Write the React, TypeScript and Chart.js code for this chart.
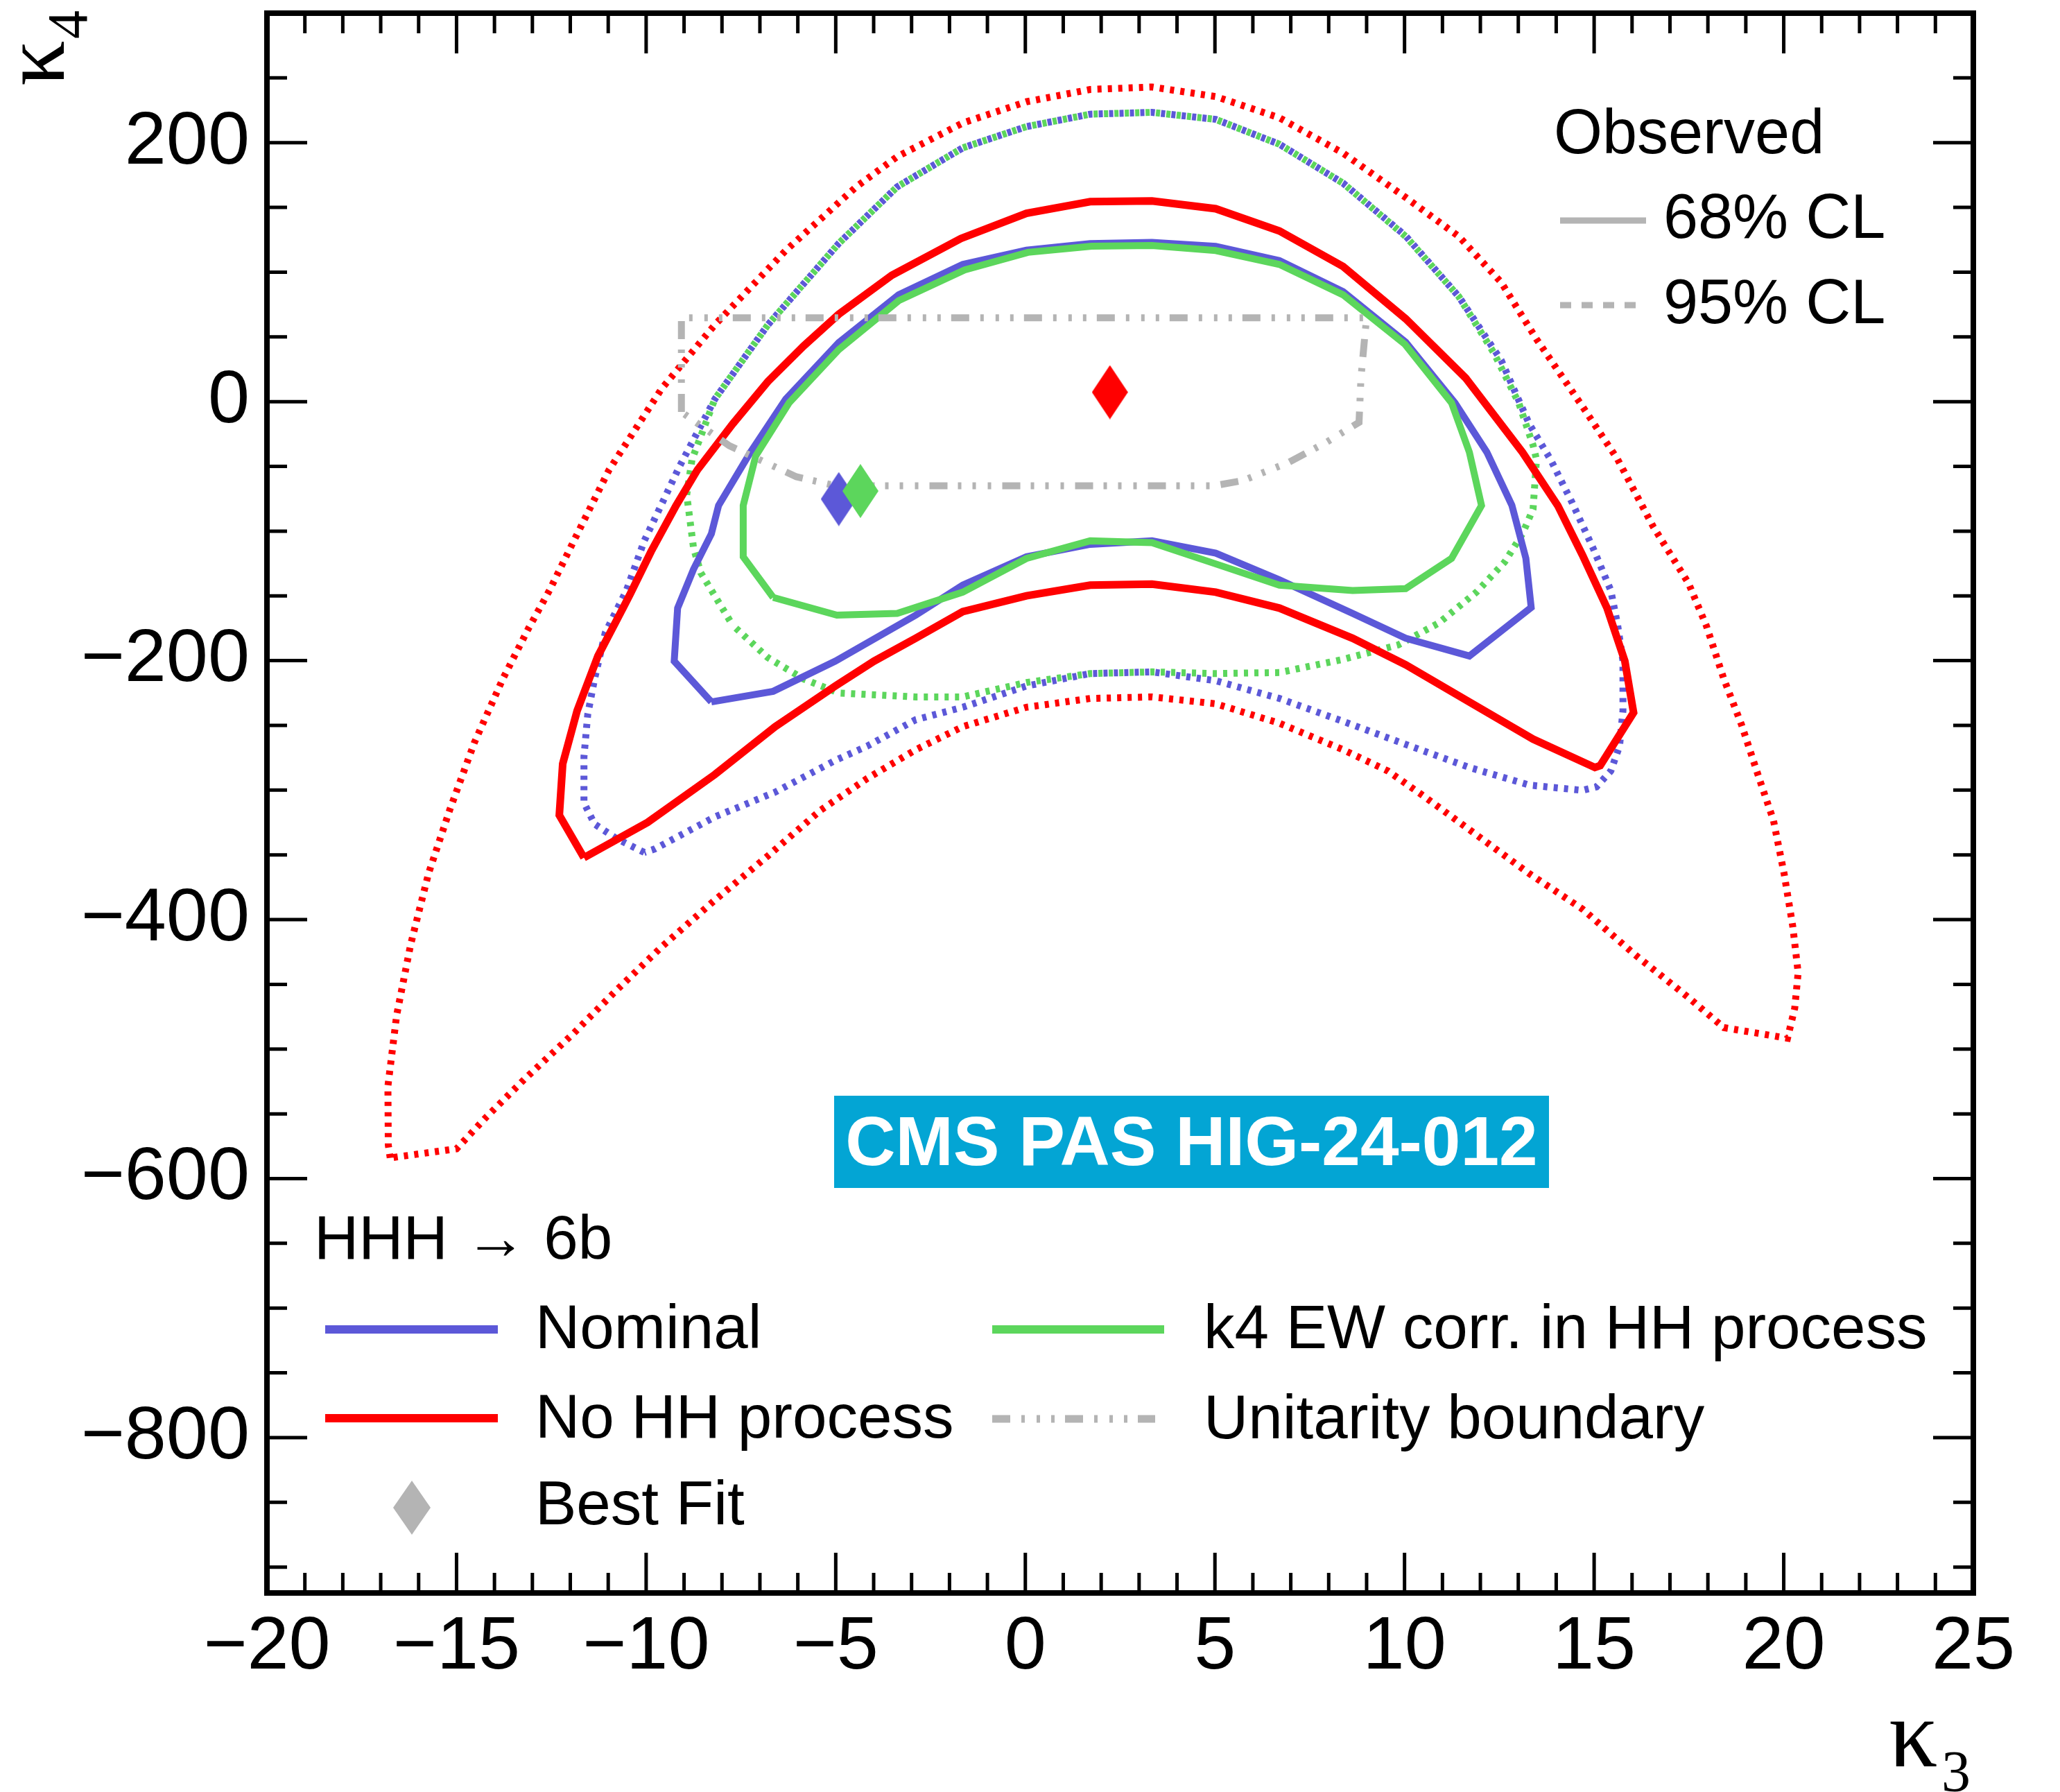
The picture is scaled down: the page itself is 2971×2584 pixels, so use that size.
import React, { useEffect, useRef } from 'react';
import { Chart, registerables } from 'chart.js';

Chart.register(...registerables);

// ---------- axis ticks ----------
const X_TICKS = [-20, -15, -10, -5, 0, 5, 10, 15, 20, 25];
const Y_TICKS = [-800, -600, -400, -200, 0, 200];
const X_RANGE = [-20, 25];
const Y_RANGE = [-920, 300];

// ---------- contours (kappa3, kappa4) ----------
const NOMINAL_68 = [
  [-8.28, -231.9], [-9.26, -200.4], [-9.17, -159.4], [-8.75, -129.4], [-8.28, -102], [-8.09, -80.2],
  [-7.25, -39.1], [-6.32, 1.9], [-4.92, 45.6], [-3.34, 82.5], [-1.65, 106], [0.03, 117], [1.71, 122],
  [3.34, 123], [5.02, 120], [6.7, 109], [8.38, 85], [10.03, 46], [11.33, -1], [12.17, -39], [12.83, -80],
  [13.2, -121], [13.34, -159], [11.71, -196.4], [10.03, -182.7], [8.63, -163.5], [6.7, -137.6],
  [5.02, -117], [3.34, -107.5], [1.71, -110.2], [0.03, -119.8], [-1.65, -141.7], [-2.89, -164.9],
  [-5.01, -200.4], [-6.65, -223.7],
];
const NOMINAL_95 = [
  [-10.05, -348.1], [-10.8, -337.1], [-11.36, -326.2], [-11.64, -309.8], [-11.64, -274.3], [-11.54, -241.5],
  [-11.36, -214.1], [-11.08, -178.6], [-10.52, -145.8], [-10.05, -107.5], [-9.12, -50], [-8.19, 1.9],
  [-6.79, 59.3], [-4.92, 122.2], [-3.38, 165.9], [-1.65, 196], [0.03, 212.4], [1.71, 222], [3.34, 223.4],
  [5.02, 218], [6.7, 198.8], [8.38, 168.7], [10.03, 128], [11.43, 81.2], [12.55, 31.9], [13.29, -17.3],
  [13.85, -44.6], [14.41, -77.4], [14.97, -113], [15.44, -145.8], [15.62, -172.6], [15.76, -200.4],
  [15.76, -238.7], [15.67, -266], [15.44, -285.2], [15.06, -297.5], [14.69, -300.2], [13.29, -296.1],
  [11.71, -282.5], [10.03, -264.7], [8.38, -246.9], [6.7, -229.2], [5.02, -215.5], [3.34, -208.7],
  [1.71, -210], [0.03, -219.6], [-1.65, -236], [-2.89, -245.6], [-4.17, -266], [-5.01, -277],
  [-6.6, -301.6], [-8.19, -320.7], [-9.77, -345.4],
];
const K4EW_68 = [
  [-6.65, -151.2], [-7.44, -119.8], [-7.44, -80.2], [-7.11, -41.9], [-6.23, -0.9], [-4.92, 40.2],
  [-3.34, 78], [-1.6, 101.7], [0.07, 115.3], [1.75, 120.1], [3.34, 120.6], [5.02, 116.7], [6.7, 106],
  [8.38, 82.5], [10.01, 44.3], [11.24, -0.9], [11.71, -39.1], [12.03, -80.2], [11.24, -121.1],
  [10.03, -144.4], [8.63, -145.8], [6.7, -141.7], [5.02, -125.3], [3.34, -108.9], [1.71, -107.5],
  [0.03, -121.1], [-1.65, -147.1], [-3.38, -163.5], [-4.97, -164.9],
];
const K4EW_95 = [
  [-7.72, -172.6], [-8.56, -132.1], [-8.75, -113], [-8.93, -71.9], [-8.79, -44.6], [-8.19, 1.9],
  [-6.79, 59.3], [-4.92, 122.2], [-3.38, 165.9], [-1.65, 196], [0.03, 212.4], [1.71, 222], [3.34, 223.4],
  [5.02, 218], [6.7, 198.8], [8.38, 168.7], [10.03, 127.6], [11.43, 81.2], [12.36, 37.4], [13.01, -0.9],
  [13.39, -33.7], [13.48, -44.6], [13.39, -82.9], [13.11, -102], [12.64, -123.9], [11.9, -147],
  [10.9, -171], [9.84, -187.8], [8.38, -199], [6.7, -209.2], [5.02, -210], [3.34, -208.7], [1.71, -210],
  [0.03, -216.9], [-1.65, -228], [-2.89, -228], [-4.92, -225], [-5.85, -214.1], [-6.79, -197.7],
];
const NOHH_68 = [
  [-11.64, -352.2], [-12.29, -319.4], [-12.2, -279.7], [-11.82, -238.7], [-11.27, -196.4], [-10.61, -159.4],
  [-10.42, -148.5], [-9.87, -115.7], [-9.21, -80.2], [-8.65, -52.8], [-7.72, -17.3], [-6.79, 15.5],
  [-5.85, 42.9], [-4.92, 67.5], [-3.52, 97.6], [-1.7, 126], [0.03, 145.4], [1.71, 154.4], [3.34, 155],
  [5.02, 149], [6.7, 131.8], [8.38, 104.4], [10.03, 64], [11.61, 18.3], [13.11, -39.1], [14.04, -80.2],
  [14.69, -118.4], [15.34, -159.4], [15.81, -200.4], [16.04, -240.1], [15.16, -281.1], [15.02, -282.5],
  [13.39, -260.6], [11.71, -231.9], [10.03, -203.2], [8.63, -182.7], [6.7, -159.4], [5.02, -147.1],
  [3.34, -140.9], [1.71, -141.7], [0.03, -149.9], [-1.65, -162.2], [-2.89, -182.7], [-3.99, -200.4],
  [-5.01, -219.6], [-6.6, -251], [-8.19, -288], [-9.96, -324.9],
];
const NOHH_95 = [
  [-16.75, -584], [-16.8, -574], [-16.81, -528.6], [-16.58, -473.9], [-16.21, -419.2], [-15.74, -364.5],
  [-15.18, -315.3], [-14.53, -263.3], [-13.78, -214.1], [-13.1, -175], [-12.55, -145.8], [-12.0, -113],
  [-10.98, -52.8], [-9.59, 10.1], [-8.19, 59.3], [-6.32, 116.7], [-4.46, 165.9], [-3.38, 189.2],
  [-1.65, 215.2], [0.03, 231.6], [1.71, 241.1], [3.34, 243], [5.02, 235.6], [6.7, 219.2], [8.38, 191.9],
  [10.03, 157.7], [11.43, 127.6], [12.55, 92.1], [13.48, 48.3], [14.69, -3.6], [15.62, -44.6],
  [16.56, -96.6], [17.49, -140.3], [17.96, -173.1], [18.42, -214.1], [18.89, -249.7], [19.35, -290.7],
  [19.73, -323.5], [20.01, -364.5], [20.24, -405.5], [20.38, -441], [20.29, -468.4], [20.1, -491.6],
  [18.42, -483.4], [17.49, -460.2], [16.09, -427.4], [14.69, -391.8], [13.29, -364.5], [11.89, -334.4],
  [10.49, -304.3], [9.56, -285.2], [8.38, -268.8], [6.7, -248.3], [5.02, -233.3], [3.34, -228],
  [1.71, -229.2], [0.03, -236], [-1.65, -251], [-2.89, -268.8], [-4.17, -291], [-5.39, -315.3],
  [-6.79, -350.8], [-8.19, -385], [-9.59, -421], [-10.8, -455], [-11.92, -488], [-13.2, -523],
  [-14.2, -552], [-15.0, -577],
];
const UNITARITY = [
  [-9.07, -8], [-9.07, 64.8], [9.0, 64.8], [8.95, 50], [8.85, 18], [8.8, -16], [7.96, -31], [6.94, -47],
  [5.73, -61], [4.97, -65], [-4.99, -65], [-6.04, -58], [-7.81, -34], [-9.07, -8],
];
const BF_NOMINAL = [-4.92, -75.2];
const BF_K4EW = [-4.35, -69];
const BF_NOHH = [2.23, 7.3];

// ---------- colours ----------
const BLUE = '#5c58d8';
const RED = '#ff0000';
const GREEN = '#5cd65c';
const GRAY = '#b4b4b4';
const CMS_BLUE = '#03a5d4';

const SANS = "'Liberation Sans', Arial, Helvetica, sans-serif";
const SERIF = "'Liberation Serif', 'Times New Roman', serif";

const fmt = (v: number) => (v < 0 ? '\u2212' + Math.abs(v) : String(v));
const toXY = (pts: number[][], close = true) => {
  const d = pts.map(([x, y]) => ({ x, y }));
  if (close && pts.length) d.push({ x: pts[0][0], y: pts[0][1] });
  return d;
};

function diamond(color: string, w: number, h: number) {
  const c = document.createElement('canvas');
  c.width = w;
  c.height = h;
  const g = c.getContext('2d')!;
  g.fillStyle = color;
  g.beginPath();
  g.moveTo(w / 2, 0);
  g.lineTo(w, h / 2);
  g.lineTo(w / 2, h);
  g.lineTo(0, h / 2);
  g.closePath();
  g.fill();
  return c;
}

const DOT = [6, 9];
const UNIT_DASH = [26, 16, 5, 17, 5, 16, 5, 15];

const decorPlugin = {
  id: 'decor',
  afterDraw(chart: any) {
    const { ctx, chartArea: a, scales } = chart;
    const xs = scales.x;
    const ys = scales.y;
    ctx.save();
    // ticks
    ctx.strokeStyle = '#000';
    ctx.lineWidth = 5;
    ctx.lineCap = 'butt';
    ctx.beginPath();
    for (let v = Math.ceil(xs.min); v <= xs.max; v += 1) {
      const L = X_TICKS.includes(v) ? 58 : 29;
      const px = xs.getPixelForValue(v);
      ctx.moveTo(px, a.bottom);
      ctx.lineTo(px, a.bottom - L);
      ctx.moveTo(px, a.top);
      ctx.lineTo(px, a.top + L);
    }
    for (let v = Math.ceil(ys.min / 50) * 50; v <= ys.max; v += 50) {
      const L = Y_TICKS.includes(v) ? 58 : 29;
      const py = ys.getPixelForValue(v);
      ctx.moveTo(a.left, py);
      ctx.lineTo(a.left + L, py);
      ctx.moveTo(a.right, py);
      ctx.lineTo(a.right - L, py);
    }
    ctx.stroke();
    // frame
    ctx.lineWidth = 8;
    ctx.strokeRect(a.left, a.top, a.right - a.left, a.bottom - a.top);

    // axis titles
    ctx.fillStyle = '#000';
    ctx.textBaseline = 'alphabetic';
    ctx.textAlign = 'left';
    ctx.font = `140px ${SERIF}`;
    ctx.fillText('\u03ba', 2724, 2547);
    ctx.font = `84px ${SERIF}`;
    ctx.fillText('3', 2800, 2583);

    ctx.save();
    ctx.translate(92, 124);
    ctx.rotate(-Math.PI / 2);
    ctx.font = `130px ${SERIF}`;
    ctx.fillText('\u03ba', 0, 0);
    ctx.font = `82px ${SERIF}`;
    ctx.fillText('4', 68, 33);
    ctx.restore();

    // top-right legend
    ctx.font = `90px ${SANS}`;
    ctx.fillText('Observed', 2241, 221);
    ctx.fillText('68% CL', 2399, 343);
    ctx.fillText('95% CL', 2399, 466);
    ctx.strokeStyle = GRAY;
    ctx.lineWidth = 9;
    ctx.beginPath();
    ctx.moveTo(2250, 318);
    ctx.lineTo(2374, 318);
    ctx.stroke();
    ctx.setLineDash([16, 15]);
    ctx.beginPath();
    ctx.moveTo(2250, 440);
    ctx.lineTo(2361, 440);
    ctx.stroke();
    ctx.setLineDash([]);

    // bottom legend
    ctx.fillStyle = '#000';
    ctx.font = `89px ${SANS}`;
    ctx.fillText('HHH \u2192 6b', 453, 1815);
    ctx.fillText('Nominal', 772, 1944);
    ctx.fillText('No HH process', 772, 2073);
    ctx.fillText('Best Fit', 772, 2198);
    ctx.fillText('k4 EW corr. in HH process', 1736, 1944);
    ctx.fillText('Unitarity boundary', 1736, 2074);

    const seg = (color: string, x0: number, x1: number, y: number, w: number, dash: number[] = []) => {
      ctx.strokeStyle = color;
      ctx.lineWidth = w;
      ctx.setLineDash(dash);
      ctx.beginPath();
      ctx.moveTo(x0, y);
      ctx.lineTo(x1, y);
      ctx.stroke();
      ctx.setLineDash([]);
    };
    seg(BLUE, 469, 718, 1917, 12);
    seg(RED, 469, 718, 2045, 12);
    seg(GREEN, 1431, 1679, 1917, 12);
    seg(GRAY, 1431, 1666, 2046, 11, UNIT_DASH);
    ctx.drawImage(diamond(GRAY, 54, 78), 594 - 27, 2174 - 39);

    // CMS label
    ctx.fillStyle = CMS_BLUE;
    ctx.fillRect(1203, 1580, 1031, 133);
    ctx.fillStyle = '#fff';
    ctx.font = `bold 100px ${SANS}`;
    ctx.textAlign = 'center';
    ctx.fillText('CMS PAS HIG-24-012', 1718.5, 1680);
    ctx.restore();
  },
};

export default function App() {
  const ref = useRef<HTMLCanvasElement | null>(null);
  useEffect(() => {
    if (!ref.current) return;
    const line = (data: number[][], color: string, width: number, order: number, dash: number[] = [], offset = 0) => ({
      data: toXY(data),
      showLine: true,
      borderColor: color,
      borderWidth: width,
      borderDash: dash,
      borderDashOffset: offset,
      borderCapStyle: 'butt',
      borderJoinStyle: 'miter',
      pointRadius: 0,
      pointHoverRadius: 0,
      fill: false,
      tension: 0,
      order,
    });
    const point = (p: number[], color: string, order: number) => ({
      data: [{ x: p[0], y: p[1] }],
      showLine: false,
      pointStyle: diamond(color, 52, 78),
      pointRadius: 1,
      pointHoverRadius: 1,
      order,
    });
    const chart = new Chart(ref.current, {
      type: 'scatter',
      data: {
        datasets: [
          line(NOHH_95, RED, 10, 9, DOT),
          line(NOMINAL_95, BLUE, 10, 8, DOT),
          line(K4EW_95, GREEN, 10, 7, DOT, 7.5),
          line(NOHH_68, RED, 11, 6),
          line(NOMINAL_68, BLUE, 10, 5),
          line(K4EW_68, GREEN, 10, 4),
          { ...line(UNITARITY, GRAY, 10, 3, UNIT_DASH), data: toXY(UNITARITY, false) },
          point(BF_NOMINAL, BLUE, 2),
          point(BF_K4EW, GREEN, 1),
          point(BF_NOHH, RED, 0),
        ] as any,
      },
      options: {
        animation: false,
        responsive: false,
        maintainAspectRatio: false,
        devicePixelRatio: 1,
        events: [],
        layout: { autoPadding: false, padding: { left: 0, right: 125, top: 19, bottom: 0 } },
        plugins: { legend: { display: false }, tooltip: { enabled: false } },
        scales: {
          x: {
            type: 'linear',
            min: X_RANGE[0],
            max: X_RANGE[1],
            grid: { display: false, drawTicks: false },
            border: { display: false },
            ticks: {
              font: { family: SANS, size: 108 },
              color: '#000',
              padding: 14,
              autoSkip: false,
              maxRotation: 0,
              minRotation: 0,
              callback: (v: any) => fmt(Number(v)),
            },
            afterBuildTicks: (s: any) => {
              s.ticks = X_TICKS.map((v) => ({ value: v }));
            },
            afterFit: (s: any) => {
              s.height = 287;
              s.paddingLeft = 0;
              s.paddingRight = 0;
            },
          },
          y: {
            type: 'linear',
            min: Y_RANGE[0],
            max: Y_RANGE[1],
            grid: { display: false, drawTicks: false },
            border: { display: false },
            ticks: {
              font: { family: SANS, size: 108 },
              color: '#000',
              padding: 25,
              autoSkip: false,
              callback: (v: any) => fmt(Number(v)),
            },
            afterBuildTicks: (s: any) => {
              s.ticks = Y_TICKS.map((v) => ({ value: v }));
            },
            afterFit: (s: any) => {
              s.width = 385;
              s.paddingTop = 0;
              s.paddingBottom = 0;
            },
          },
        },
      } as any,
      plugins: [decorPlugin],
    });
    return () => chart.destroy();
  }, []);
  return (
    <div style={{ position: 'absolute', left: 0, top: 0, width: 2971, height: 2584, background: '#fff' }}>
      <canvas ref={ref} width={2971} height={2584} style={{ width: 2971, height: 2584, display: 'block' }} />
    </div>
  );
}
